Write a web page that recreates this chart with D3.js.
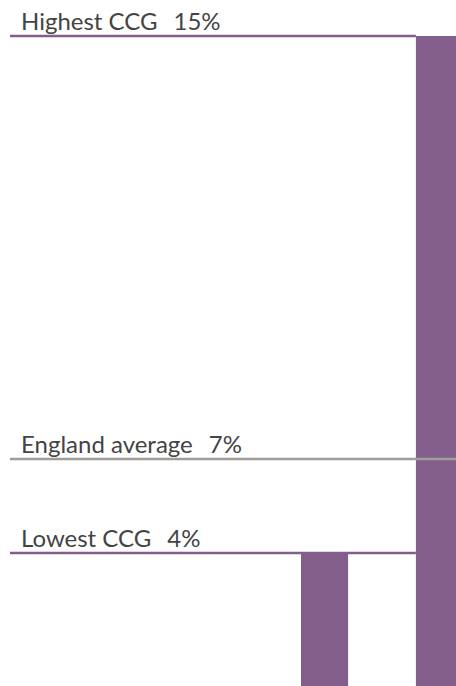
<!DOCTYPE html>
<html>
<head>
<meta charset="utf-8">
<script src="https://cdn.jsdelivr.net/npm/d3@7"></script>
<style>
  body { margin: 0; background: #fff; }
  text { font-family: Lato, "Open Sans", sans-serif; fill: #444; }
</style>
</head>
<body>
<div id="chart"></div>
<script>
// bars: lowest and highest CCG (percent)
var barNames = ["Lowest CCG", "Highest CCG"];
var barValues = [3.07, 15];

// reference lines
var refNames = ["Highest CCG", "England average", "Lowest CCG"];
var refValues = [15, 5.24, 3.07];
var refLabels = ["15%", "7%", "4%"];

var width = 456, height = 686;

var svg = d3.select("#chart")
    .append("svg")
    .attr("width", width)
    .attr("height", height);

// y scale: 0 at the bottom, 15% at the top line
var y = d3.scaleLinear()
    .domain([0, 15])
    .range([height, 36]);

// two bars, the right one runs off the edge
var x = d3.scaleBand()
    .domain(barNames)
    .range([301, 463])
    .paddingInner(0.59)
    .paddingOuter(0);

var purple = "#835e8b";

svg.selectAll(".bar")
    .data(barNames)
    .enter()
    .append("rect")
    .attr("class", "bar")
    .attr("x", function(d) { return x(d); })
    .attr("width", x.bandwidth())
    .attr("y", function(d, i) { return y(barValues[i]); })
    .attr("height", function(d, i) { return height - y(barValues[i]); })
    .attr("fill", purple);

// lines - the average one goes across the bar
svg.selectAll(".ref")
    .data(refNames)
    .enter()
    .append("line")
    .attr("x1", 10)
    .attr("x2", function(d, i) { return i == 1 ? width : x("Highest CCG"); })
    .attr("y1", function(d, i) { return y(refValues[i]); })
    .attr("y2", function(d, i) { return y(refValues[i]); })
    .attr("stroke", function(d, i) { return i == 1 ? "#a09d9a" : purple; })
    .attr("stroke-width", 2.5);

var lbl = svg.selectAll(".lbl")
    .data(refNames)
    .enter()
    .append("text")
    .attr("x", 21)
    .attr("y", function(d, i) { return y(refValues[i]) - 6; })
    .style("font-size", "24px");

lbl.append("tspan").text(function(d) { return d; });
lbl.append("tspan")
    .attr("dx", 16)
    .text(function(d, i) { return refLabels[i]; });
</script>
</body>
</html>
